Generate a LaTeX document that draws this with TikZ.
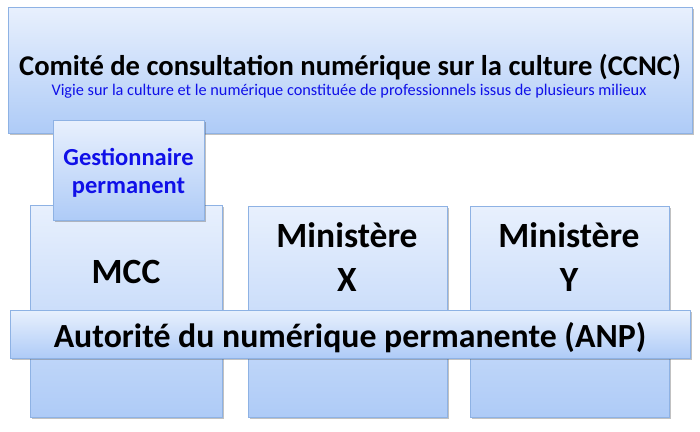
\documentclass[tikz,border=0pt]{standalone}
\usepackage{fontspec}
\setmainfont{Carlito}
\usetikzlibrary{shadows}
\definecolor{boxtop}{HTML}{E8F0FD}
\definecolor{boxbot}{HTML}{AECBF7}
\definecolor{boxline}{HTML}{8EB2E4}
\definecolor{subblue}{HTML}{1010E8}
\tikzset{
  box/.style={rectangle, draw=boxline, line width=0.8pt, top color=boxtop, bottom color=boxbot,
    anchor=north west, inner sep=0pt,
    drop shadow={shadow xshift=1.5pt, shadow yshift=-1.5pt, opacity=0.35, fill=black!70}},
  lbl/.style={font=\bfseries, text=black, inner sep=0pt, anchor=base},
}
\begin{document}
\begin{tikzpicture}[x=1pt,y=-1pt]
\useasboundingbox (0,0) rectangle (700,431);
% top committee
\node[box, minimum width=684pt, minimum height=126pt] (ccnc) at (8,7) {};
\node[lbl, font=\bfseries\fontsize{28.6}{32}\selectfont] (ccnct) at (350,75) {Comité de consultation numérique sur la culture (CCNC)};
\node[lbl, font=\fontsize{16.3}{18}\selectfont, text=subblue] (ccncs) at (349,95) {Vigie sur la culture et le numérique constituée de professionnels issus de plusieurs milieux};
% ministries
\node[box, minimum width=192pt, minimum height=212pt] (mcc) at (30,205) {};
\node[box, minimum width=199pt, minimum height=211pt] (mx) at (248,206) {};
\node[box, minimum width=199pt, minimum height=211pt] (my) at (470,206) {};
\node[lbl, font=\bfseries\fontsize{35.5}{40}\selectfont] (mcct) at (126,283) {MCC};
\node[lbl, font=\bfseries\fontsize{35.5}{40}\selectfont] (mxa) at (347,247) {Ministère};
\node[lbl, font=\bfseries\fontsize{35.5}{40}\selectfont] (mxb) at (347,291) {X};
\node[lbl, font=\bfseries\fontsize{35.5}{40}\selectfont] (mya) at (569,247) {Ministère};
\node[lbl, font=\bfseries\fontsize{35.5}{40}\selectfont] (myb) at (569,291) {Y};
% gestionnaire
\node[box, minimum width=151pt, minimum height=100pt] (gest) at (53,120) {};
\node[lbl, font=\bfseries\fontsize{24.5}{27}\selectfont, text=subblue] (gesta) at (128.5,165) {Gestionnaire};
\node[lbl, font=\bfseries\fontsize{24.5}{27}\selectfont, text=subblue] (gestb) at (128.5,193) {permanent};
% ANP
\node[box, minimum width=680pt, minimum height=48pt] (anp) at (10,310) {};
\node[lbl, font=\bfseries\fontsize{33.8}{38}\selectfont] (anpt) at (350,347) {Autorité du numérique permanente (ANP)};
\end{tikzpicture}
\end{document}
